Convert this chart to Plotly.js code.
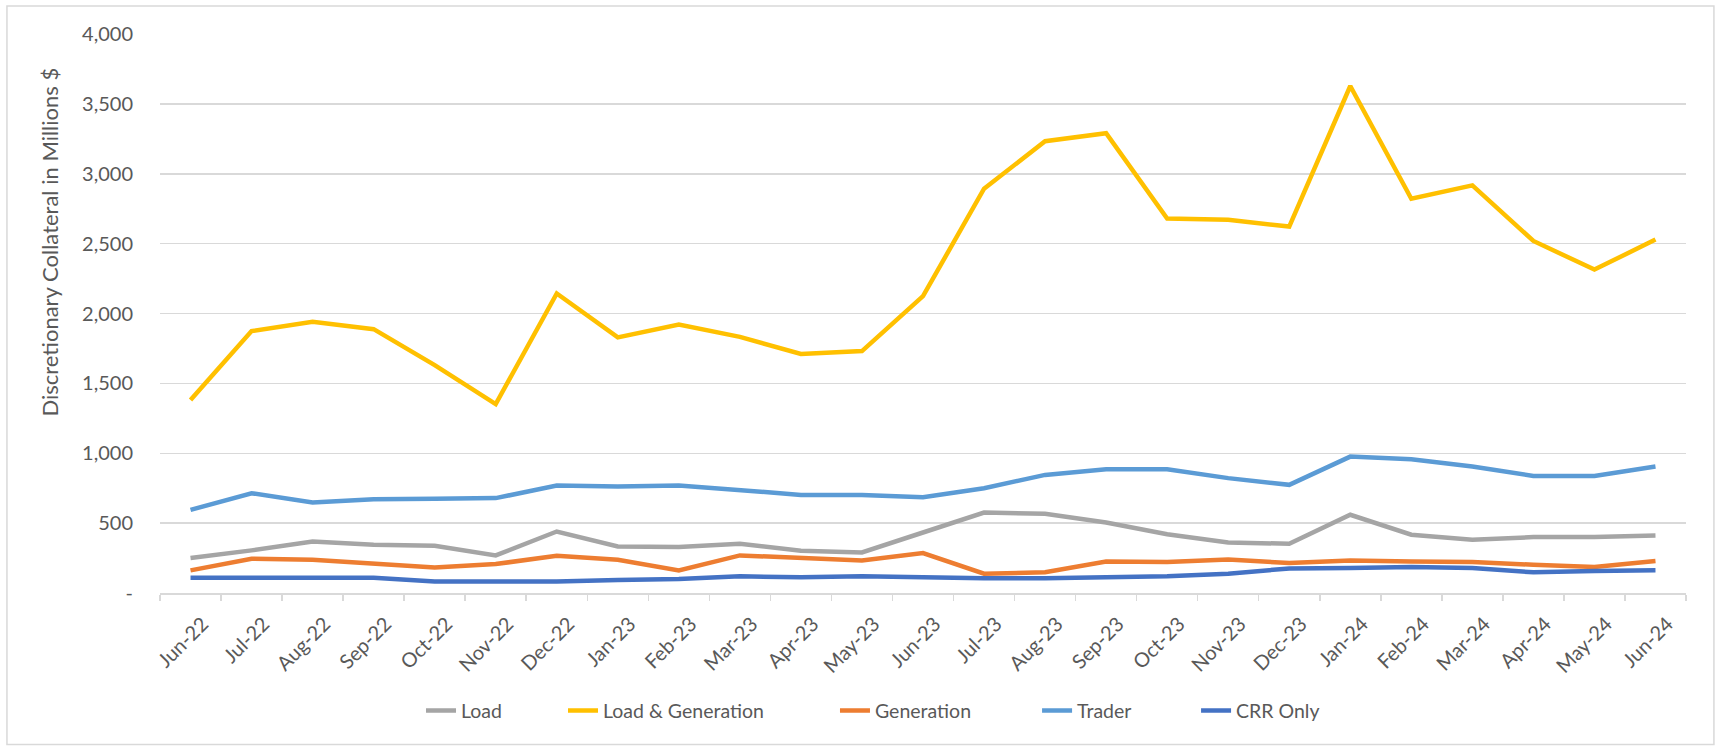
<!DOCTYPE html>
<html>
<head>
<meta charset="utf-8">
<script src="https://cdn.plot.ly/plotly-3.0.1.min.js"></script>
<style>
  html, body { margin: 0; padding: 0; background: #ffffff; }
  #chart { width: 1717px; height: 746px; }
</style>
</head>
<body>
<div id="chart"></div>
<script>
const months = ["Jun-22","Jul-22","Aug-22","Sep-22","Oct-22","Nov-22","Dec-22","Jan-23","Feb-23","Mar-23","Apr-23","May-23","Jun-23","Jul-23","Aug-23","Sep-23","Oct-23","Nov-23","Dec-23","Jan-24","Feb-24","Mar-24","Apr-24","May-24","Jun-24"];

const load =          [250, 305, 369, 345, 338, 269, 440, 333, 329, 352, 302, 290, 433, 576, 567, 505, 421, 362, 352, 560, 417, 381, 400, 400, 412];
const loadGeneration = [1381, 1874, 1940, 1888, 1631, 1352, 2143, 1829, 1921, 1833, 1710, 1731, 2124, 2893, 3233, 3290, 2679, 2671, 2622, 3628, 2821, 2917, 2519, 2314, 2529];
const generation =    [162, 245, 238, 214, 183, 207, 267, 238, 162, 269, 250, 233, 286, 138, 148, 226, 221, 240, 214, 233, 226, 221, 202, 186, 229];
const trader =        [595, 714, 648, 671, 674, 679, 769, 762, 770, 733, 702, 702, 686, 750, 845, 886, 886, 822, 774, 976, 957, 905, 838, 838, 905];
const crrOnly =       [110, 110, 110, 110, 83, 83, 83, 93, 100, 119, 112, 119, 110, 105, 105, 110, 119, 138, 176, 179, 186, 179, 148, 157, 162];

const yTickVals = [0, 500, 1000, 1500, 2000, 2500, 3000, 3500, 4000];
const yTickText = ["-", "500", "1,000", "1,500", "2,000", "2,500", "3,000", "3,500", "4,000"];

const seriesNames = ["Load", "Load & Generation", "Generation", "Trader", "CRR Only"];
const seriesData = [load, loadGeneration, generation, trader, crrOnly];
const seriesColors = ["#A5A5A5", "#FFC000", "#ED7D31", "#5B9BD5", "#4472C4"];
const legendIds = ["legend", "legend2", "legend3", "legend4", "legend5"];
const legendX = [0.2452, 0.3279, 0.4863, 0.6040, 0.6966];

const FONT = "Lato, 'Open Sans', 'DejaVu Sans', sans-serif";
const TXT = "#595959";

const traces = seriesNames.map((name, i) => ({
  type: "scatter",
  mode: "lines",
  name: name,
  x: months,
  y: seriesData[i],
  legend: legendIds[i],
  line: { color: seriesColors[i], width: 4.5, shape: "linear" },
  hoverinfo: "x+y+name"
}));

const layout = {
  width: 1717,
  height: 746,
  paper_bgcolor: "#ffffff",
  plot_bgcolor: "#ffffff",
  margin: { l: 160, r: 31, t: 34, b: 152.5, pad: 0 },
  font: { family: FONT, color: TXT, size: 19 },
  showlegend: true,
  xaxis: {
    type: "category",
    range: [-0.5, months.length - 0.5],
    showgrid: false,
    zeroline: false,
    showline: true,
    linecolor: "#d9d9d9",
    linewidth: 1.5,
    ticks: "outside",
    tickson: "boundaries",
    ticklen: 6,
    tickwidth: 1.5,
    tickcolor: "#d9d9d9",
    tickangle: -45,
    ticklabelstandoff: 10,
    ticklabelshift: 12,
    tickfont: { family: FONT, color: TXT, size: 20 },
    fixedrange: true
  },
  yaxis: {
    range: [0, 4000],
    tickvals: yTickVals,
    ticktext: yTickText,
    showgrid: true,
    gridcolor: "#d9d9d9",
    gridwidth: 1.5,
    zeroline: false,
    showline: false,
    ticks: "",
    ticklabelstandoff: 26,
    tickfont: { family: FONT, color: TXT, size: 20 },
    fixedrange: true
  },
  annotations: [{
    text: "Discretionary Collateral in Millions $",
    xref: "paper",
    yref: "paper",
    x: -0.0727,
    y: 0.627,
    xanchor: "center",
    yanchor: "middle",
    textangle: -90,
    showarrow: false,
    font: { family: FONT, color: TXT, size: 22 }
  }],
  shapes: [{
    type: "rect",
    xref: "paper",
    yref: "paper",
    x0: -0.1003,
    x1: 1.0183,
    y0: -0.2708,
    y1: 1.0501,
    line: { color: "#d9d9d9", width: 1.5 },
    fillcolor: "rgba(0,0,0,0)",
    layer: "below"
  }]
};

legendIds.forEach((id, i) => {
  layout[id] = {
    orientation: "h",
    xref: "container",
    yref: "container",
    x: legendX[i],
    xanchor: "left",
    y: 0.047,
    yanchor: "middle",
    bgcolor: "rgba(0,0,0,0)",
    font: { family: FONT, color: TXT, size: 19.5 }
  };
});

Plotly.newPlot("chart", traces, layout, { displayModeBar: false, staticPlot: true });
</script>
</body>
</html>
